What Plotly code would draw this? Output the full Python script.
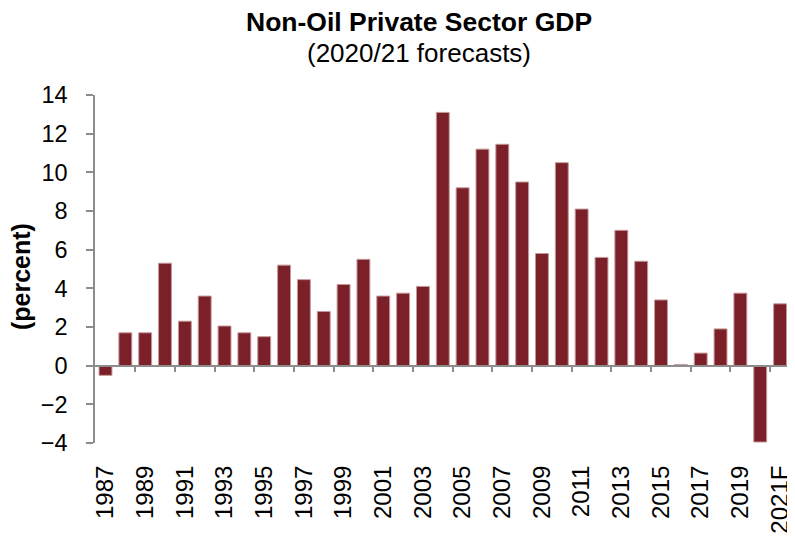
import plotly.graph_objects as go

years = list(range(1987, 2022))
year_labels = [str(y) for y in range(1987, 2021, 2)] + ["2021F"]
label_years = list(range(1987, 2022, 2))
growth = [-0.5, 1.7, 1.7, 5.3, 2.3, 3.6, 2.05, 1.7, 1.5, 5.2,
          4.45, 2.8, 4.2, 5.5, 3.6, 3.75, 4.1, 13.1, 9.2, 11.2,
          11.45, 9.5, 5.8, 10.5, 8.1, 5.6, 7.0, 5.4, 3.4, 0.05,
          0.65, 1.9, 3.75, -3.95, 3.2]
y_ticks = list(range(-4, 15, 2))
sep_ticks = [y + 0.5 for y in range(1988, 2021, 2)]

FONT = "Arial, Liberation Sans, sans-serif"
GREY = "#8c8c8c"
xrange = [1986.471, 2021.35]

fig = go.Figure()
fig.add_trace(go.Bar(
    x=years, y=growth, width=0.65,
    marker=dict(color="#7b2029", line=dict(color="#c4979a", width=1)),
    hoverinfo="x+y",
))
fig.add_trace(go.Scatter(x=[years[0]], y=[None], xaxis="x2", showlegend=False,
                         hoverinfo="skip"))

fig.update_layout(
    width=779, height=528,
    margin=dict(l=87, r=0, t=87, b=93, autoexpand=False),
    paper_bgcolor="white", plot_bgcolor="white",
    showlegend=False,
    font=dict(family=FONT, size=24, color="black"),
    xaxis=dict(
        range=xrange, tickmode="array", tickvals=label_years, ticktext=year_labels,
        tickangle=-90, ticks="outside", ticklen=12, tickcolor="rgba(0,0,0,0)",
        showline=False, showgrid=False, zeroline=False, ticklabeloverflow="allow",
        tickfont=dict(family=FONT, size=24, color="black"),
    ),
    xaxis2=dict(
        range=xrange, overlaying="x", anchor="free", position=4 / 18, side="bottom",
        tickmode="array", tickvals=sep_ticks, ticks="outside", ticklen=6,
        tickcolor=GREY, tickwidth=1.5, showticklabels=False,
        showline=True, linecolor=GREY, linewidth=1.5,
        showgrid=False, zeroline=False,
    ),
    yaxis=dict(
        range=[-4, 14], tickmode="array", tickvals=y_ticks,
        ticks="outside", ticklen=7, tickcolor=GREY, tickwidth=1.5,
        showline=True, linecolor=GREY, linewidth=1.5,
        showgrid=False, zeroline=False, ticklabelstandoff=14,
        tickfont=dict(family=FONT, size=23.5, color="black"),
    ),
    annotations=[
        dict(text="<b>Non-Oil Private Sector GDP</b>", xref="paper", yref="paper",
             x=0.4675, y=1.2098, xanchor="center", yanchor="middle", showarrow=False,
             font=dict(family=FONT, size=26.5, color="black")),
        dict(text="(2020/21 forecasts)", xref="paper", yref="paper",
             x=0.4675, y=1.1207, xanchor="center", yanchor="middle", showarrow=False,
             font=dict(family=FONT, size=26, color="black")),
        dict(text="<b>(percent)</b>", xref="paper", yref="paper",
             x=-0.1069, y=0.477, xanchor="center", yanchor="middle", textangle=-90,
             showarrow=False, font=dict(family=FONT, size=25, color="black")),
    ],
)

fig.write_html("out.html")
